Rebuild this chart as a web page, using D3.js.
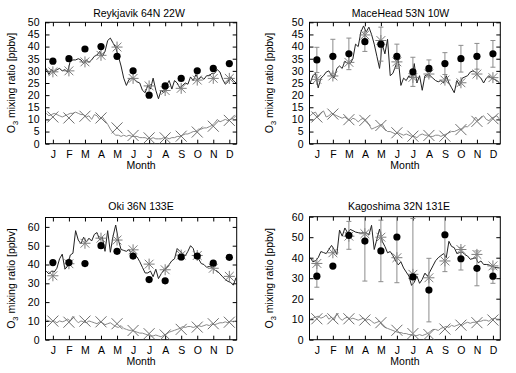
<!DOCTYPE html>
<html>
<head>
<meta charset="utf-8">
<script src="https://cdn.jsdelivr.net/npm/d3@7"></script>
<style>
  body { margin: 0; background: #fff; }
  svg { display: block; font-family: "Liberation Sans", Arial, Helvetica, sans-serif; }
  .tick text { font-size: 10.5px; fill: #000; }
  .tick line { stroke: #000; }
</style>
</head>
<body>
<div id="chart"></div>
<script>
let width = 516,
    height = 373

let monthLabels = ["J", "F", "M", "A", "M", "J", "J", "A", "S", "O", "N", "D"]
let ticks50 = [0, 5, 10, 15, 20, 25, 30, 35, 40, 45, 50]
let ticks60 = [0, 10, 20, 30, 40, 50, 60]

// Reykjavik
let reykObs = [34, 35, 39, 40, 36, 30, 20, 23.8, 26.9, 30, 31, 33]
let reykStar = [29.6, 30, 33.7, 36.4, 39.8, 26.9, 23.8, 21.9, 22.8, 26.2, 26.9, 26.9]
let reykCross = [11, 10.6, 11.3, 10.6, 6.5, 3.4, 2.4, 2.4, 3.1, 4.8, 7.2, 9.6]
// pentad model values (6 per month)
let reykLine = [31, 28.5, 30.5, 29.5, 30.5, 31,
  30, 30.5, 29.5, 34, 34.5, 34.5,
  35, 34.5, 33, 34.5, 33.5, 34.5,
  36, 36.5, 38, 36, 38, 42.5,
  43.5, 41.5, 39.5, 36, 32, 27,
  24, 26.5, 27, 26.5, 25.5, 25,
  22, 21, 24, 22.5, 27, 22,
  18.5, 22, 21, 24, 26, 22.5,
  26, 25, 23, 24, 25, 24.5,
  27.5, 26, 28.5, 26.5, 27.5, 26.5,
  28, 28, 29, 29, 30.5, 29.5,
  26.5, 24.5, 25.5, 27.5, 26, 25]
let reykLow = [12.5, 11.5, 12, 12.5, 12, 11.5,
  11, 11.5, 12, 12.5, 12.5, 13,
  12.5, 12, 12, 11, 11.5, 10,
  12, 11.5, 10, 11, 9.5, 8,
  6, 4.5, 3.5, 3.5, 3, 3.5,
  3, 3.5, 3, 3, 3, 2.5,
  2.5, 2.5, 2, 2, 2.5, 2,
  2, 2, 2.5, 2.5, 2, 2.5,
  2.5, 3, 3, 3.5, 4, 4,
  4.5, 5, 5, 6, 6, 6.5,
  6.5, 7, 7.5, 8.5, 10, 9,
  9.5, 10, 9.5, 10, 10.5, 11.5]

// MaceHead
let maceObs = [34.5, 36, 37, 42, 41, 36, 29.6, 31, 33, 35, 36, 37]
let maceErr = [5.2, 7, 6.5, 4, 7, 5, 6, 3.5, 4.5, 5.5, 5.3, 5.5]
let maceStar = [26.5, 27.9, 33.5, 44.8, 42.5, 33.7, 27.3, 28.7, 26.2, 25.1, 28.7, 27.2]
let maceCross = [11, 12.2, 9.9, 9.6, 7.5, 4.5, 3.1, 3.4, 3.1, 5.8, 9.2, 10.3]
let maceLine = [25, 28, 29, 23, 27, 28,
  29.5, 30, 28, 27, 31, 32,
  31, 34, 33, 33, 35, 41,
  40, 46, 48.5, 46, 48, 45,
  41, 36, 31, 41, 37, 43,
  28, 29, 32, 35, 24, 27,
  26, 28, 27, 33, 25, 28,
  22, 28, 28.5, 28, 27, 26,
  25.5, 26, 25, 28, 25, 23,
  21, 26, 24, 27, 27.5, 28,
  29.5, 30, 29.5, 28, 27, 25,
  27, 28, 27, 26.5, 26, 25]
let maceLow = [11.5, 12.5, 13, 11, 12.5, 13.5,
  11, 11.5, 12.5, 12, 11.5, 11,
  10.5, 11, 10, 9.5, 10.5, 10,
  9, 10, 10.5, 9.5, 8, 6,
  6.5, 7, 7.5, 8, 6, 5,
  5, 4.5, 4, 4.5, 4, 3.5,
  4, 3.5, 3, 3, 2.5, 3.5,
  4, 3.5, 3.5, 3, 3, 3.5,
  3.5, 3, 3.5, 4, 4.5, 5,
  5, 5.5, 6, 6, 7, 7,
  8, 9, 11, 9.5, 10.5, 11.5,
  10, 9.5, 10.5, 11, 11.5, 10]

// Oki
let okiObs = [41, 41, 40.5, 50, 47, 44.5, 32, 31.3, 44, 44.5, 40.7, 43.8]
let okiStar = [34, 40.4, 51.3, 54, 53, 47.8, 40.2, 37.2, 45, 44.8, 38, 33.7]
let okiCross = [9.9, 9.3, 9.9, 9.5, 8.5, 4.9, 3.2, 2.5, 5.5, 6.7, 8.5, 9.3]
let okiLine = [36.5, 35, 36.5, 36, 38, 43,
  45.5, 37.5, 39, 45, 46, 58,
  53, 51, 54.5, 52, 54, 52.5,
  56, 57, 53, 54.5, 47, 58,
  46.5, 55, 61, 53, 48, 47.5,
  47, 48, 45, 45, 44, 41.5,
  38.5, 35.5, 35.5, 36.5, 33.5, 37.5,
  32.5, 35, 37, 38.5, 40, 42,
  43, 48.5, 47, 46, 44.5, 47,
  50, 48.5, 43.5, 43, 40.5, 40,
  38.5, 39, 38.5, 37, 36.5, 35,
  33.5, 32, 31, 30.5, 29, 33]
let okiLow = [10.5, 10, 9.5, 10, 9, 10,
  9.5, 10, 11, 10, 12.5, 10.5,
  9, 10, 9.5, 9, 10, 9.5,
  9, 8.5, 9.5, 9, 8, 8.5,
  9, 8, 7, 6.5, 7.5, 6,
  5.5, 5, 5, 4.5, 4, 3.5,
  3.5, 3, 2.5, 2, 2, 2.5,
  2, 1.5, 2.5, 3, 4, 4.5,
  5, 5.5, 6, 7, 6.5, 7,
  7, 6.5, 7, 7.5, 7, 7.5,
  8, 7.5, 8.5, 8, 8.5, 9,
  9, 9.5, 9, 10, 9.5, 10]

// Kagoshima
let kagoObs = [31, 35.9, 50.9, 48.1, 43.3, 50.1, 30.6, 24.2, 51.2, 39.5, 34.8, 31]
let kagoErr = [5.4, null, 6.8, 19.5, 15, 22.3, 28.5, 15.5, 18, 5.5, 8.5, 3.5]
let kagoStar = [37.2, 42.4, 50.5, 51.7, 50, 40, 31.9, 30.2, 38.4, 44, 41.6, 36]
let kagoCross = [10.2, 10.2, 10.2, 9.6, 8.3, 4.6, 3, 2.5, 5.2, 7.1, 8.3, 9.6]
let kagoLine = [40, 38, 38.5, 40, 43, 42.5,
  42, 44, 46, 44, 41.6, 53.5,
  50.5, 54.5, 52.2, 53.8, 53.2, 52.5,
  52.2, 52, 52.2, 52.2, 51, 55.8,
  44, 49, 54, 48, 45.5, 42.4,
  43, 41, 38.5, 36.5, 38, 35,
  33, 31, 26.5, 28, 31, 27.5,
  29.4, 32.5, 31, 33.5, 36, 38.5,
  40, 41, 42, 40, 48, 45.5,
  44.9, 42, 42.5, 42.8, 41.5, 40.8,
  39.2, 39.6, 40, 37.5, 38.4, 36.7,
  36.7, 36.5, 35.8, 35.4, 35.1, 35]
let kagoLow = [10, 10.5, 11, 11.5, 10.5, 11,
  12, 10, 11, 9.5, 13, 10.5,
  9.5, 10.5, 11, 10, 10.5, 10,
  9.5, 10, 10.5, 9.5, 10, 9,
  8, 8.5, 9, 7, 6, 5.5,
  5, 4.5, 4, 3.5, 3.5, 3,
  3, 2.5, 2.5, 2, 2, 2.5,
  2, 2.5, 3, 4, 5, 5,
  4.5, 5.5, 6, 6.5, 6, 7,
  6.5, 7, 7.5, 7, 8, 8.5,
  8, 8.5, 8.5, 9, 9, 9.5,
  9.5, 9, 10, 10.5, 10, 10]

let panels = [
  { title: "Reykjavik 64N 22W", obs: reykObs, err: null, star: reykStar, cross: reykCross,
    line: reykLine, low: reykLow, ymax: 50, ticks: ticks50,
    x0: 45.5, x1: 236.7, y0: 22.3, y1: 143.7, tx: 139, ty: 16.5, lx: 15 },
  { title: "MaceHead 53N 10W", obs: maceObs, err: maceErr, star: maceStar, cross: maceCross,
    line: maceLine, low: maceLow, ymax: 50, ticks: ticks50,
    x0: 309.5, x1: 500.3, y0: 22.3, y1: 143.7, tx: 400.5, ty: 16.5, lx: 273 },
  { title: "Oki 36N 133E", obs: okiObs, err: null, star: okiStar, cross: okiCross,
    line: okiLine, low: okiLow, ymax: 65, ticks: ticks60,
    x0: 45.5, x1: 236.7, y0: 217.5, y1: 339.7, tx: 141, ty: 209.5, lx: 15 },
  { title: "Kagoshima 32N 131E", obs: kagoObs, err: kagoErr, star: kagoStar, cross: kagoCross,
    line: kagoLine, low: kagoLow, ymax: 60, ticks: ticks60,
    x0: 309.5, x1: 500.3, y0: 216.7, y1: 339.7, tx: 399, ty: 209.5, lx: 273 }
]

let svg = d3.select("#chart").append("svg")
  .attr("width", width)
  .attr("height", height)

svg.append("rect")
  .attr("width", width)
  .attr("height", height)
  .attr("fill", "#fff")

// marker shapes
function starPath(s) {
  let d = s * 0.8
  return `M${-s},0H${s}M0,${-s}V${s}M${-d},${-d}L${d},${d}M${-d},${d}L${d},${-d}`
}
function crossPath(s) {
  return `M${-s},${-s}L${s},${s}M${-s},${s}L${s},${-s}`
}

panels.forEach((p, pi) => {
  let x = d3.scaleLinear()
    .domain([0.54, 12.46])
    .range([p.x0, p.x1])
  let y = d3.scaleLinear()
    .domain([0, p.ymax])
    .range([p.y1, p.y0])

  let g = svg.append("g")

  // clip to the plot frame
  let clipId = "clip" + pi
  svg.append("clipPath").attr("id", clipId)
    .append("rect")
    .attr("x", p.x0).attr("y", p.y0)
    .attr("width", p.x1 - p.x0).attr("height", p.y1 - p.y0)

  // axes, ticks inward on all sides
  g.append("g")
    .attr("transform", `translate(${p.x0},0)`)
    .call(d3.axisLeft(y).tickValues(p.ticks).tickSize(-4).tickPadding(6))
    .call(a => a.select(".domain").remove())
  g.append("g")
    .attr("transform", `translate(${p.x1},0)`)
    .call(d3.axisRight(y).tickValues(p.ticks).tickSize(-4).tickFormat(""))
    .call(a => a.select(".domain").remove())
  g.append("g")
    .attr("transform", `translate(0,${p.y1})`)
    .call(d3.axisBottom(x).tickValues(d3.range(1, 13)).tickSize(-4).tickPadding(7)
      .tickFormat(m => monthLabels[m - 1]))
    .call(a => a.select(".domain").remove())
  g.append("g")
    .attr("transform", `translate(0,${p.y0})`)
    .call(d3.axisTop(x).tickValues(d3.range(1, 13)).tickSize(-4).tickFormat(""))
    .call(a => a.select(".domain").remove())

  g.append("rect")
    .attr("x", p.x0).attr("y", p.y0)
    .attr("width", p.x1 - p.x0).attr("height", p.y1 - p.y0)
    .attr("fill", "none")
    .attr("stroke", "#000")
    .attr("stroke-width", 1)

  let plot = g.append("g").attr("clip-path", `url(#${clipId})`)

  // pentad lines
  let line = d3.line()
    .x((d, i) => x(0.5 + (i + 0.5) / 6))
    .y(d => y(d))

  plot.append("path")
    .datum(p.low)
    .attr("d", line)
    .attr("fill", "none")
    .attr("stroke", "#8a8a8a")
    .attr("stroke-width", 1)

  plot.append("path")
    .datum(p.line)
    .attr("d", line)
    .attr("fill", "none")
    .attr("stroke", "#222")
    .attr("stroke-width", 1)

  // monthly model means
  plot.selectAll(".star")
    .data(p.star)
    .enter().append("path")
    .attr("class", "star")
    .attr("transform", (d, i) => `translate(${x(i + 1)},${y(d)})`)
    .attr("d", starPath(5.5))
    .attr("stroke", "#7c7c7c")
    .attr("stroke-width", 1)
    .attr("fill", "none")

  plot.selectAll(".cross")
    .data(p.cross)
    .enter().append("path")
    .attr("class", "cross")
    .attr("transform", (d, i) => `translate(${x(i + 1)},${y(d)})`)
    .attr("d", crossPath(5.5))
    .attr("stroke", "#6e6e6e")
    .attr("stroke-width", 1)
    .attr("fill", "none")

  // observation error bars
  if (p.err) {
    let bars = p.obs.map((v, i) => ({ m: i + 1, v: v, e: p.err[i] }))
      .filter(d => d.e != null)
    let eb = plot.selectAll(".err")
      .data(bars)
      .enter().append("g")
      .attr("class", "err")
      .attr("stroke", "#8c8c8c")
      .attr("stroke-width", 1)
    eb.append("line")
      .attr("x1", d => x(d.m)).attr("x2", d => x(d.m))
      .attr("y1", d => y(d.v - d.e)).attr("y2", d => y(d.v + d.e))
    eb.append("line")
      .attr("x1", d => x(d.m) - 2.5).attr("x2", d => x(d.m) + 2.5)
      .attr("y1", d => y(d.v + d.e)).attr("y2", d => y(d.v + d.e))
    eb.append("line")
      .attr("x1", d => x(d.m) - 2.5).attr("x2", d => x(d.m) + 2.5)
      .attr("y1", d => y(d.v - d.e)).attr("y2", d => y(d.v - d.e))
  }

  // observations
  plot.selectAll(".obs")
    .data(p.obs)
    .enter().append("circle")
    .attr("class", "obs")
    .attr("cx", (d, i) => x(i + 1))
    .attr("cy", d => y(d))
    .attr("r", 3.6)
    .attr("fill", "#000")

  // texts
  g.append("text")
    .attr("x", p.tx)
    .attr("y", p.ty)
    .attr("text-anchor", "middle")
    .style("font-size", "10.5px")
    .text(p.title)

  g.append("text")
    .attr("x", (p.x0 + p.x1) / 2)
    .attr("y", p.y1 + 25.3)
    .attr("text-anchor", "middle")
    .style("font-size", "10.5px")
    .text("Month")

  let yl = g.append("text")
    .attr("transform", `translate(${p.lx},${(p.y0 + p.y1) / 2}) rotate(-90)`)
    .attr("text-anchor", "middle")
    .style("font-size", "10.5px")
  yl.append("tspan").text("O")
  yl.append("tspan").attr("dy", 2.5).style("font-size", "7.5px").text("3")
  yl.append("tspan").attr("dy", -2.5).text(" mixing ratio [ppbv]")
})
</script>
</body>
</html>
